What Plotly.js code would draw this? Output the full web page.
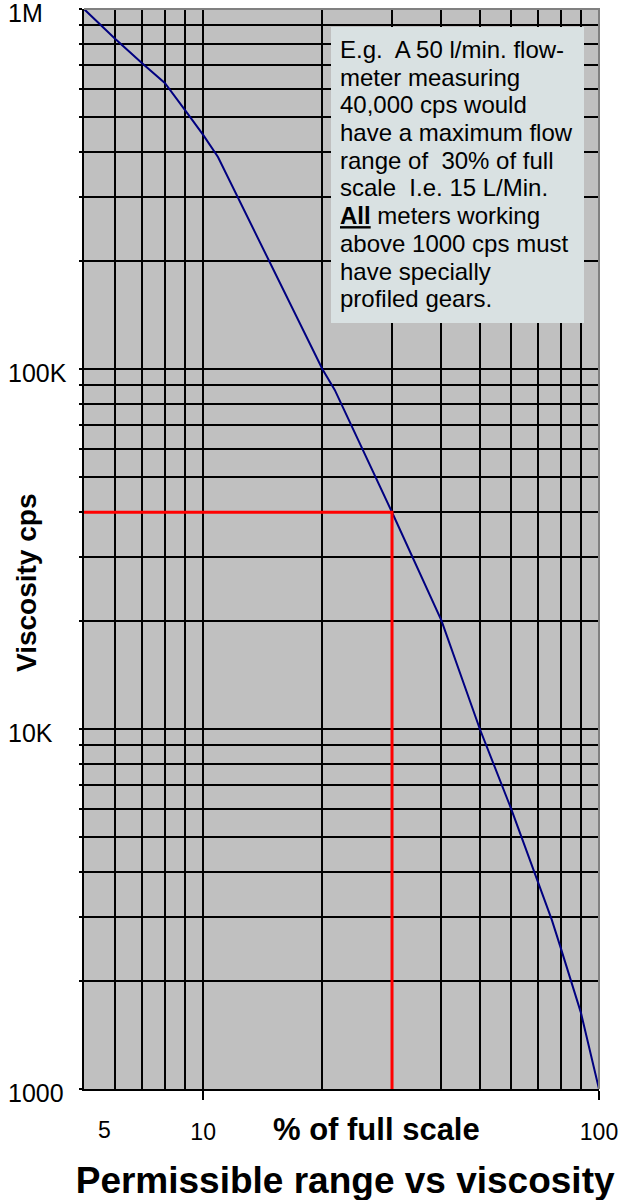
<!DOCTYPE html>
<html><head><meta charset="utf-8">
<script src="https://cdn.plot.ly/plotly-3.0.1.min.js"></script>
<style>html,body{margin:0;padding:0;background:#fff}</style>
</head><body><div id="chart" style="width:623px;height:1200px"></div>
<script>
// ---- data ----
const percentFullScale = [5, 6, 7, 8, 9, 10, 10.9, 20, 21.5, 30, 40, 50, 60, 70, 76, 80, 90, 100];
const viscosityCps = [1000000, 825000, 708000, 623000, 524000, 447000, 388000, 100000, 87500, 40000, 20000, 10000, 6000, 3750, 2950, 2470, 1630, 1000];
const examplePercent = [5, 30, 30];
const exampleViscosity = [40000, 40000, 1000];
const xMajorTicks = [10, 100];
const xMajorLabels = ['10', '100'];
const xMinorGrid = [6, 7, 8, 9, 20, 30, 40, 50, 60, 70, 80, 90];
const yGrid = [1000, 2000, 3000, 4000, 5000, 6000, 7000, 8000, 9000,
  10000, 20000, 30000, 40000, 50000, 60000, 70000, 80000, 90000,
  100000, 200000, 300000, 400000, 500000, 600000, 700000, 800000, 900000, 1000000];
const yTickVals = [1000, 10000, 100000, 1000000];
const yTickLabels = ['1000', '10K', '100K', '1M'];
const noteLines = [
  'E.g.\u00a0 A 50 l/min. flow-',
  'meter measuring',
  '40,000 cps would',
  'have a maximum flow',
  'range of\u00a0 30% of full',
  'scale\u00a0 I.e. 15 L/Min.',
  '<b><u>All</u></b> meters working',
  'above 1000 cps must',
  'have specially',
  'profiled gears.'
];

const FONT = 'Liberation Sans, Arial, Helvetica, sans-serif';

// paper coordinates: plot paper spans x 4..599 px, y 9..1089 px
const L = 4, PW = 595, B = 1089, PH = 1080;
const px = v => (v - L) / PW;
const py = v => (B - v) / PH;

const traces = [
  {x: percentFullScale, y: viscosityCps, type: 'scatter', mode: 'lines',
   line: {color: '#000080', width: 2}, hoverinfo: 'skip'},
  {x: examplePercent, y: exampleViscosity, type: 'scatter', mode: 'lines',
   line: {color: '#ff0000', width: 3}, yaxis: 'y2', hoverinfo: 'skip'}
];

const layout = {
  width: 623, height: 1200,
  margin: {l: L, r: 24, t: 9, b: 111, pad: 0},
  paper_bgcolor: '#ffffff', plot_bgcolor: '#c0c0c0',
  showlegend: false,
  font: {family: FONT, color: '#000'},
  title: {text: '<b>Permissible range vs viscosity</b>',
    font: {size: 37, family: FONT, color: '#000'},
    xref: 'container', yref: 'container', x: 0.554, xanchor: 'center', y: 0.0167, yanchor: 'middle'},
  xaxis: {type: 'log', range: [Math.log10(5), 2], domain: [px(84), 1],
    tickmode: 'array', tickvals: xMajorTicks, ticktext: xMajorLabels,
    ticks: 'outside', ticklen: 9, tickwidth: 2, tickcolor: '#000',
    tickfont: {size: 23, family: FONT, color: '#000'}, ticklabelstandoff: 12,
    showgrid: true, gridcolor: '#000', gridwidth: 2,
    minor: {tickmode: 'array', tickvals: xMinorGrid, showgrid: true, gridcolor: '#000', gridwidth: 2, ticks: ''},
    showline: true, linecolor: '#000', linewidth: 2, zeroline: false},
  yaxis: {type: 'log', range: [3, 6],
    tickmode: 'array', tickvals: yGrid, showticklabels: false,
    ticks: 'outside', ticklen: 3, tickwidth: 2, tickcolor: '#000',
    showgrid: true, gridcolor: '#000', gridwidth: 2,
    showline: true, linecolor: '#000', linewidth: 2, zeroline: false},
  yaxis2: {type: 'log', range: [3, 6], overlaying: 'y', anchor: 'free', position: 0, side: 'left',
    tickmode: 'array', tickvals: yTickVals, ticktext: yTickLabels,
    ticks: '', ticklabelposition: 'inside', ticklabeloverflow: 'allow', ticklabelshift: 4,
    tickfont: {size: 25, family: FONT, color: '#000'},
    showgrid: false, showline: false, zeroline: false},
  shapes: [{type: 'path', xref: 'paper', yref: 'paper',
    path: 'M' + px(84) + ',1L1,1L1,0',
    line: {color: '#808080', width: 2}, layer: 'above'}],
  annotations: [
    {text: '5', xref: 'paper', yref: 'paper', x: px(104), y: 0, yshift: -41,
     xanchor: 'center', yanchor: 'middle', showarrow: false, font: {size: 23, family: FONT, color: '#000'}},
    {text: '<b>% of full scale</b>', xref: 'paper', yref: 'paper', x: px(376), y: 0, yshift: -40,
     xanchor: 'center', yanchor: 'middle', showarrow: false, font: {size: 31, family: FONT, color: '#000'}},
    {text: '<b>Viscosity cps</b>', xref: 'paper', yref: 'paper', x: px(26), y: py(583),
     xanchor: 'center', yanchor: 'middle', textangle: -90, showarrow: false, font: {size: 28, family: FONT, color: '#000'}},
    {text: noteLines.map(s => '<span style="font-size:24px">' + s + '</span>').join('<br>'),
     xref: 'paper', yref: 'paper', x: px(331), y: py(27),
     xanchor: 'left', yanchor: 'top', align: 'left', valign: 'top', showarrow: false,
     width: 235, height: 278, borderpad: 9, borderwidth: 0, bgcolor: '#d9e1e2',
     font: {size: 21.3, family: FONT, color: '#000'}}
  ]
};

Plotly.newPlot('chart', traces, layout, {displayModeBar: false, staticPlot: true});
</script></body></html>
